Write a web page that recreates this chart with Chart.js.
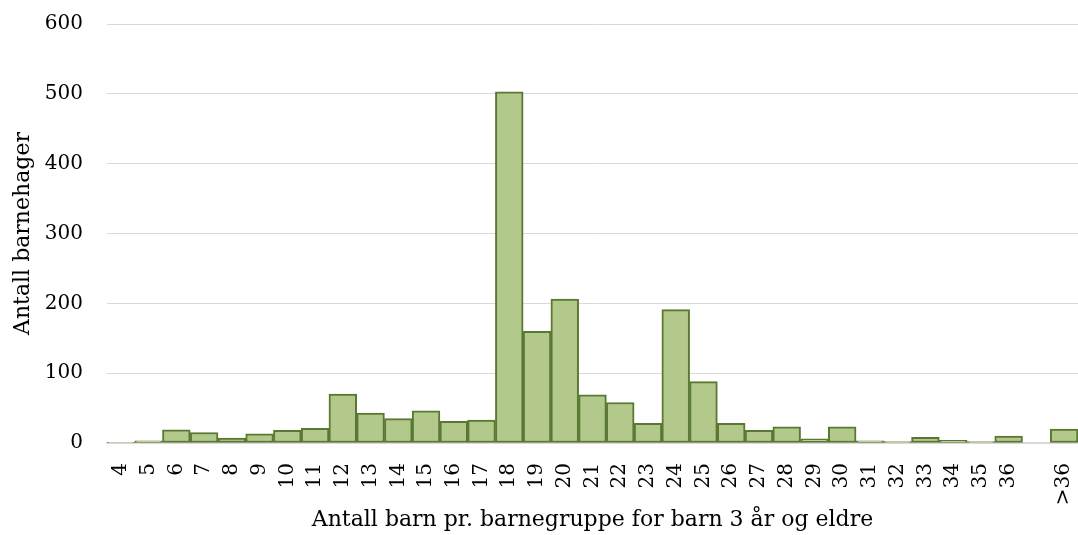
<!DOCTYPE html>
<html>
<head>
<meta charset="utf-8">
<script src="https://cdn.jsdelivr.net/npm/chart.js@4"></script>
<style>
  body { margin: 0; background: #fff; }
  #wrap { width: 1078px; height: 535px; }
</style>
</head>
<body>
<div id="wrap"><canvas id="myChart" width="1078" height="535"></canvas></div>
<script>
// gruppestørrelse (antall barn pr. barnegruppe), tom plass før >36
let categories = ["4", "5", "6", "7", "8", "9", "10", "11", "12", "13", "14", "15", "16", "17",
  "18", "19", "20", "21", "22", "23", "24", "25", "26", "27", "28", "29", "30",
  "31", "32", "33", "34", "35", "36", "", ">36"];

// antall barnehager
let barnehager = [1, 3, 19, 15, 7, 13, 18, 21, 70, 43, 35, 46, 31, 33,
  503, 160, 206, 69, 58, 28, 191, 88, 28, 18, 23, 6, 23,
  3, 2, 8, 4, 2, 10, null, 20];

let yTicks = [0, 100, 200, 300, 400, 500, 600];

const fontFamily = "'DejaVu Serif', 'Liberation Serif', serif";

const ctx = document.getElementById("myChart").getContext("2d");
let myChart = new Chart(ctx, {
  type: "bar",
  data: {
    labels: categories,
    datasets: [
      {
        label: "Antall barnehager",
        data: barnehager,
        backgroundColor: "#b3c98b",
        borderColor: "#5a7832",
        borderWidth: 2,
        borderSkipped: false,
        barPercentage: 1,
        categoryPercentage: 1,
      },
    ],
  },
  options: {
    responsive: false,
    animation: false,
    layout: { padding: { top: 24, right: 0, left: 0, bottom: 0 } },
    plugins: {
      legend: { display: false },
      tooltip: { enabled: false },
    },
    scales: {
      x: {
        grid: { display: false, drawTicks: false },
        border: { display: true, color: "#d9d9d9", width: 2 },
        ticks: {
          color: "#000",
          font: { family: fontFamily, size: 20 },
          minRotation: 90,
          maxRotation: 90,
          autoSkip: false,
          padding: 20,
        },
        title: {
          display: true,
          text: "Antall barn pr. barnegruppe for barn 3 år og eldre",
          color: "#000",
          font: { family: fontFamily, size: 22 },
          padding: { top: 8, bottom: 2 },
        },
        afterFit: (axis) => {
          axis.paddingLeft = 0;
          axis.paddingRight = 0;
          axis.height = 92;
        },
      },
      y: {
        min: 0,
        max: 600,
        afterBuildTicks: (axis) => {
          axis.ticks = yTicks.map((v) => ({ value: v }));
        },
        afterFit: (axis) => {
          axis.width = 107;
          axis.paddingTop = 0;
          axis.paddingBottom = 0;
        },
        grid: { color: "#d9d9d9", lineWidth: 1, drawTicks: false },
        border: { display: false },
        ticks: {
          color: "#000",
          font: { family: fontFamily, size: 20 },
          padding: 24,
        },
        title: {
          display: true,
          text: "Antall barnehager",
          color: "#000",
          font: { family: fontFamily, size: 22 },
          padding: { top: 10, bottom: 4 },
        },
      },
    },
  },
});
</script>
</body>
</html>
